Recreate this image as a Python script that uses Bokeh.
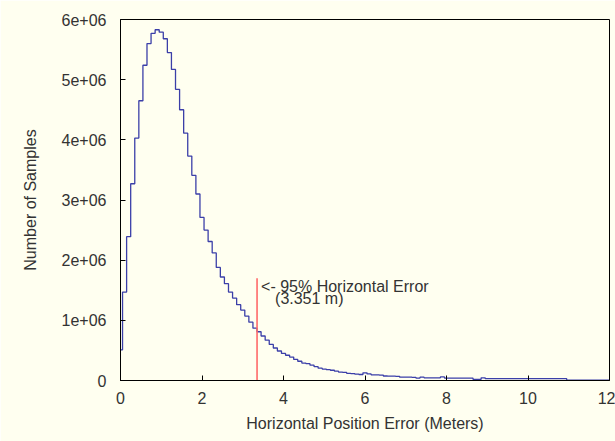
import numpy as np
from bokeh.plotting import figure
from bokeh.models import Range1d, FixedTicker, Label
from bokeh.embed import file_html
from bokeh.resources import INLINE

# ---- data (histogram, 0.1 m bins, values = number of samples) ----
bin_width = 0.1
counts = [
    510000, 1470000, 2390000, 3270000, 4030000, 4650000, 5240000, 5600000, 5770000, 5830000,
    5790000, 5680000, 5450000, 5170000, 4840000, 4500000, 4110000, 3730000, 3410000, 3100000,
    2710000, 2500000, 2310000, 2120000, 1880000, 1720000, 1610000, 1470000, 1370000, 1260000,
    1170000, 1070000, 970000, 870000, 810000, 740000, 670000, 600000, 540000, 490000,
    450000, 420000, 390000, 350000, 320000, 290000, 280000, 255000, 230000, 205000,
    190000, 180000, 170000, 155000, 140000, 135000, 120000, 115000, 105000, 100000,
    128000, 110000, 95000, 95000, 90000, 75000, 72000, 72000, 70000, 55000,
    55000, 55000, 52000, 40000, 55000, 45000, 45000, 45000, 45000, 60000,
    40000, 40000, 40000, 40000, 40000, 40000, 40000, 20000, 20000, 45000,
    30000, 30000, 30000, 30000, 30000, 30000, 30000, 30000, 30000, 30000,
    30000, 30000, 30000, 30000, 30000, 30000, 30000, 30000, 30000, 30000,
    5000, 5000, 5000, 5000, 5000, 5000, 5000, 5000, 5000, 5000, 5000,
]
bin_centers = [round(i * bin_width, 1) for i in range(len(counts))]

threshold = 3.351          # 95% horizontal error (m)
marker_top = 1700000       # height of the red marker line
annot_line1 = "<- 95% Horizontal Error"
annot_line2 = "(3.351 m)"

x_ticks = [0, 2, 4, 6, 8, 10, 12]
y_ticks = [0, 1000000, 2000000, 3000000, 4000000, 5000000, 6000000]
y_tick_labels = ["0", "1e+06", "2e+06", "3e+06", "4e+06", "5e+06", "6e+06"]

x_title = "Horizontal Position Error (Meters)"
y_title = "Number of Samples"

# ---- styling ----
BG = "#fffff0"
FONT = "Liberation Sans"
FSIZE = "16px"
TXT = "#333333"

p = figure(width=615, height=441, x_range=Range1d(0, 12), y_range=Range1d(0, 6000000),
           output_backend="svg", toolbar_location=None,
           background_fill_color=BG, border_fill_color=BG,
           min_border_left=120, min_border_right=6, min_border_top=19, min_border_bottom=61)
p.xgrid.grid_line_color = None
p.ygrid.grid_line_color = None
p.outline_line_color = "black"
p.outline_line_width = 1

p.step(bin_centers, counts, mode="center", line_color="#3b3fa8", line_width=1.3)
p.segment(x0=[threshold], y0=[0], x1=[threshold], y1=[marker_top],
          line_color="#ff6a6a", line_width=1.6)

xa = p.xaxis[0]
ya = p.yaxis[0]
xa.ticker = FixedTicker(ticks=x_ticks)
ya.ticker = FixedTicker(ticks=y_ticks)
ya.major_label_overrides = {t: l for t, l in zip(y_ticks, y_tick_labels)}
for ax in (xa, ya):
    ax.major_tick_in = 5
    ax.major_tick_out = 0
    ax.minor_tick_in = 0
    ax.minor_tick_out = 0
    ax.axis_line_color = "black"
    ax.major_tick_line_color = "black"
    ax.major_label_text_font = FONT
    ax.major_label_text_font_size = FSIZE
    ax.major_label_text_color = TXT
    ax.axis_label_text_font = FONT
    ax.axis_label_text_font_size = FSIZE
    ax.axis_label_text_font_style = "normal"
    ax.axis_label_text_color = TXT
xa.major_label_standoff = 11
ya.major_label_standoff = 14
xa.axis_label = x_title
xa.axis_label_standoff = 8
ya.axis_label = y_title
ya.axis_label_standoff = 20

# annotation
p.add_layout(Label(x=threshold, y=marker_top, x_offset=4, y_offset=-8, text=annot_line1,
                   text_baseline="alphabetic", text_font=FONT, text_font_size=FSIZE,
                   text_color=TXT))
p.add_layout(Label(x=threshold, y=marker_top, x_offset=18, y_offset=-20, text=annot_line2,
                   text_baseline="alphabetic", text_font=FONT, text_font_size=FSIZE,
                   text_color=TXT))

open("out.html", "w").write(file_html(p, INLINE))
